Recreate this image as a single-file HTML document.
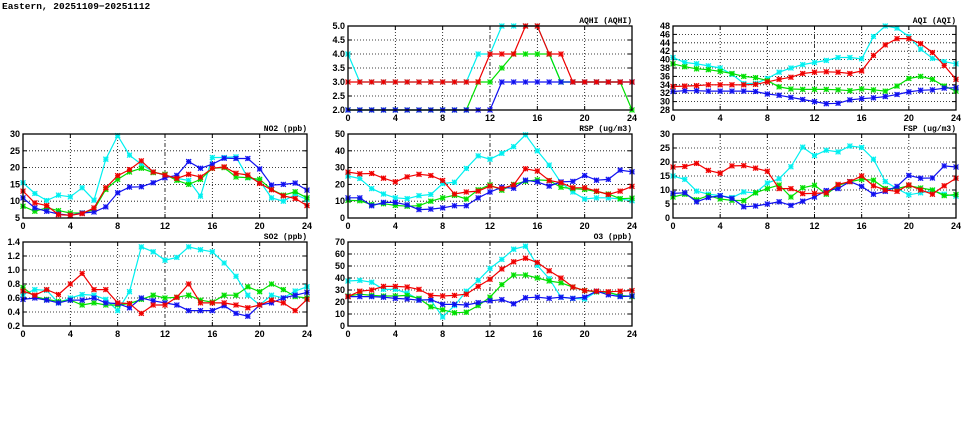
<!DOCTYPE html>
<html><head><meta charset="utf-8"><style>
body{margin:0;background:#fff;width:975px;height:447px;overflow:hidden}
svg{display:block}
text{font-family:"Liberation Sans",sans-serif;font-weight:bold;font-size:9px;fill:#000}
.mono{font-family:"Liberation Mono",monospace;font-size:8px}
.head{font-family:"Liberation Mono",monospace;font-size:9.5px}
</style></head><body>
<svg id="c" width="975" height="447" viewBox="0 0 975 447">
<text class="head" x="2" y="9">Eastern, 20251109−20251112</text>
</svg>
<script>
const hours = [0,1,2,3,4,5,6,7,8,9,10,11,12,13,14,15,16,17,18,19,20,21,22,23,24];
const xTicks = [0,4,8,12,16,20,24];
const seriesNames = ["cyan","green","blue","red"];
const seriesColors = ["#00f0f0","#00e000","#1010f0","#f00000"];

const no2Cyan = [15.5,12.3,10.2,11.8,11.3,14,10.3,22.5,29.5,23.7,21,18.7,17.8,16.8,16.2,11.5,23,23,23.2,17,16,11,10,12,10.5];
const no2Green = [8.5,7,8,7.2,6.5,6.5,7.5,13.5,16.5,18.7,19.8,18.5,18,16.2,15,16.5,19.8,20,17.2,17,16.5,13.5,11.8,12.8,11];
const no2Blue = [11,8,7,6.2,5.8,6.5,6.8,8.3,12.5,14.2,14.3,15.5,17,17.7,21.8,19.8,21,22.8,22.7,22.7,19.6,14.8,15,15.4,13.3];
const no2Red = [13,9.5,8.7,6,5.8,6.3,8,14,17.6,19.4,22,18.7,17.8,16.8,18,17.2,19.8,20.2,18.3,17.8,15.3,13.4,11.6,10.8,8.7];
const no2Ticks = [5,10,15,20,25,30];

const so2Cyan = [0.65,0.72,0.71,0.53,0.6,0.65,0.64,0.58,0.42,0.69,1.33,1.26,1.14,1.18,1.33,1.29,1.26,1.1,0.91,0.64,0.5,0.64,0.6,0.7,0.76];
const so2Green = [0.75,0.62,0.58,0.55,0.57,0.5,0.53,0.5,0.5,0.52,0.58,0.64,0.6,0.61,0.64,0.57,0.54,0.64,0.64,0.76,0.69,0.8,0.72,0.62,0.6];
const so2Blue = [0.58,0.6,0.57,0.53,0.57,0.57,0.6,0.53,0.52,0.46,0.6,0.56,0.53,0.5,0.42,0.42,0.42,0.49,0.38,0.34,0.5,0.53,0.6,0.64,0.68];
const so2Red = [0.7,0.64,0.72,0.65,0.8,0.95,0.72,0.72,0.53,0.52,0.38,0.5,0.5,0.61,0.8,0.53,0.53,0.53,0.5,0.46,0.5,0.57,0.53,0.42,0.58];
const so2Ticks = ["0.2","0.4","0.6","0.8","1.0","1.2","1.4"];

const aqhiCyan = [4,3,3,3,3,3,3,3,3,3,3,4,4,5,5,5,5,4,3,3,3,3,3,3,3];
const aqhiGreen = [2,2,2,2,2,2,2,2,2,2,2,3,3,3.5,4,4,4,4,3,3,3,3,3,3,2];
const aqhiBlue = [2,2,2,2,2,2,2,2,2,2,2,2,2,3,3,3,3,3,3,3,3,3,3,3,3];
const aqhiRed = [3,3,3,3,3,3,3,3,3,3,3,3,4,4,4,5,5,4,4,3,3,3,3,3,3];
const aqhiTicks = ["2.0","2.5","3.0","3.5","4.0","4.5","5.0"];

const rspCyan = [25,23.5,17.5,14.3,12,11.5,13.3,14,20.5,21.3,29.5,37,35,38.5,42.5,49.5,40,31.5,21,15.5,11.3,12,12,11.3,10.3];
const rspGreen = [10.5,10.3,8,8.5,7.5,7,7.3,10,12,13.5,11.3,16.8,19.7,16.5,20,21.8,22.7,22.3,18.3,17.5,17,15.8,14.3,11.5,11.8];
const rspBlue = [12,12,7.3,9.3,9.3,7.8,5,5.3,6,7.3,7.3,12,15.5,18.3,17.7,22.5,21.5,19,21.5,21.8,25.3,22.5,23,28.5,27.5];
const rspRed = [27.3,26.3,26.5,23.7,21.5,24.5,26,25.3,22.3,14.3,15.5,16,19,17.5,19.7,29.3,28,22.3,21,18,18,16,14,16,18.8];
const rspTicks = [0,10,20,30,40,50];

const o3Cyan = [37.5,38,36.5,30.5,30.5,27.5,22,21.5,7.5,17,29,38,48,55.5,64,66.5,50.5,39.5,24,23,22.5,28.5,28,25,25];
const o3Green = [25,26.5,25.5,25,25,25.5,23,16,13.5,11,11.5,17,24,34.5,42.5,42.5,40,37.5,36,32.5,29.5,28.5,28,25.5,24.5];
const o3Blue = [24.5,24.5,24.5,24,23,22.5,21.5,22,18,18,17.5,19.5,21,22,18.5,23.5,24,23,24,23,24,29,26,24.5,25];
const o3Red = [24.5,29,30,33,33,32.5,30.5,25.5,25,25.5,26.5,33,39,47.5,53.5,56.5,53,46,40,32.5,29.5,29,28.5,29,29.5];
const o3Ticks = [0,10,20,30,40,50,60,70];

const aqiCyan = [40.5,39.3,39,38.5,38,36.5,34.3,34.3,35.5,37,38,38.8,39.3,39.8,40.5,40.5,40.2,45.5,48,47.5,45.5,42.5,40.3,39.5,39];
const aqiGreen = [39,38.3,37.8,37.6,37.2,36.7,36,35.7,35,33.5,33,32.9,32.9,32.9,32.8,32.6,33,32.8,32.5,33.7,35.5,36,35.3,33.7,32.5];
const aqiBlue = [32.4,32.6,32.6,32.5,32.5,32.5,32.5,32.4,31.8,31.5,31,30.5,30,29.5,29.6,30.4,30.7,30.9,31.2,31.7,32.3,32.7,32.8,33.2,33.3];
const aqiRed = [33.6,33.7,33.8,34,34,34,34,34.1,34.7,35.3,35.8,36.7,37,37.1,37,36.7,37.3,41,43.5,45,45,43.8,41.7,38.6,35.3];
const aqiTicks = [28,30,32,34,36,38,40,42,44,46,48];

const fspCyan = [15,13.8,9.6,8.5,8,7.3,9.3,9,12.5,14,18.3,25.3,22.3,24.2,23.6,25.7,25.2,21,13,10.5,8.3,9,9.8,8.5,7.8];
const fspGreen = [7.5,8.5,6.5,8,6.8,6.3,6.2,9,10.5,11.8,7.5,10.8,11.7,8.5,11.6,13,13.8,13.5,10.5,10.5,11.5,10.7,10,8,8.4];
const fspBlue = [8.8,9,5.8,7.3,8,7,4,4.3,5,5.8,4.5,6,7.5,9.8,10.5,13,11.3,8.5,9.5,11.3,15.2,14.2,14.3,18.6,18.2];
const fspRed = [18.2,18.4,19.5,17,16,18.6,18.7,17.8,16.7,10.5,10.5,8.7,8.8,9,12,13,15,11.5,10,9.5,11.8,10,8.5,11.5,14.2];
const fspTicks = [0,5,10,15,20,25,30];

const NS = "http://www.w3.org/2000/svg";
const svg = document.getElementById("c");
function mk(tag, attrs, parent){
  const e = document.createElementNS(NS, tag);
  for (const k in attrs) e.setAttribute(k, attrs[k]);
  (parent||svg).appendChild(e);
  return e;
}
const cols = [[23,307],[348,632],[673,956]];
const rows = [[26,110],[134,218],[242,326]];

function panel(key, title, col, row, ticks, series){
  const [x0,x1] = cols[col], [y0,y1] = rows[row];
  const vals = ticks.map(Number);
  const ymin = vals[0], ymax = vals[vals.length-1];
  const xs = h => x0 + (h/24)*(x1-x0);
  const ys = v => y1 - (v-ymin)/(ymax-ymin)*(y1-y0);
  const g = mk("g", {});
  
  
  ticks.forEach((t,i) => {
    const y = ys(vals[i]);
    if (i>0 && i<ticks.length-1) {
      const gl = mk("line", {x1:x0,x2:x1,y1:y,y2:y,stroke:"#000","stroke-width":0.8,"stroke-dasharray":"1,2"}, g);
      
      
    }
    mk("line", {x1:x0,x2:x0+4,y1:y,y2:y,stroke:"#000","stroke-width":1}, g);
    mk("line", {x1:x1-4,x2:x1,y1:y,y2:y,stroke:"#000","stroke-width":1}, g);
    const tl = mk("text", {x:x0-3,y:y+3,"text-anchor":"end"}, g);
    tl.textContent = t;
    
    
  });
  xTicks.forEach(h => {
    const x = xs(h);
    if (h>0 && h<24) {
      const gl = mk("line", {x1:x,x2:x,y1:y0,y2:y1,stroke:"#000","stroke-width":0.8,"stroke-dasharray":h===12?"4,2,1,2":"1,2"}, g);
      
      
    }
    mk("line", {x1:x,x2:x,y1:y1,y2:y1-4,stroke:"#000","stroke-width":1}, g);
    mk("line", {x1:x,x2:x,y1:y0,y2:y0+4,stroke:"#000","stroke-width":1}, g);
    const tl = mk("text", {x:x,y:y1+11,"text-anchor":"middle"}, g);
    tl.textContent = h;
    
    
  });
  series.forEach((data,si) => {
    const c = seriesColors[si];
    const pts = data.map((v,i) => xs(hours[i]).toFixed(1)+","+ys(Math.min(Math.max(v,ymin),ymax)).toFixed(1)).join(" ");
    const pl = mk("polyline", {points:pts,fill:"none",stroke:c,"stroke-width":1.2}, g);
    
    
    data.forEach((v,i) => {
      if (v<ymin || v>ymax) return;
      const x = xs(hours[i]), y = ys(v);
      const m = mk("g", {}, g);
      
      
      mk("rect", {x:x-2.5,y:y-2.5,width:5,height:5,fill:c,opacity:0.3}, m);
      mk("path", {d:`M${x-2.5},${y-2.5}L${x+2.5},${y+2.5}M${x-2.5},${y+2.5}L${x+2.5},${y-2.5}M${x-2.5},${y}L${x+2.5},${y}M${x},${y-2.5}L${x},${y+2.5}`,stroke:c,"stroke-width":1.1}, m);
    });
  });
  const fr = mk("rect", {x:x0,y:y0,width:x1-x0,height:y1-y0,fill:"none",stroke:"#000","stroke-width":1.3}, g);
  
  
  const tt = mk("text", {x:x1,y:y0-3,"text-anchor":"end","class":"mono"}, g);
  tt.textContent = title;
  
  
}
panel("aqhi","AQHI (AQHI)",1,0,aqhiTicks,[aqhiCyan,aqhiGreen,aqhiBlue,aqhiRed]);
panel("aqi","AQI (AQI)",2,0,aqiTicks,[aqiCyan,aqiGreen,aqiBlue,aqiRed]);
panel("no2","NO2 (ppb)",0,1,no2Ticks,[no2Cyan,no2Green,no2Blue,no2Red]);
panel("rsp","RSP (ug/m3)",1,1,rspTicks,[rspCyan,rspGreen,rspBlue,rspRed]);
panel("fsp","FSP (ug/m3)",2,1,fspTicks,[fspCyan,fspGreen,fspBlue,fspRed]);
panel("so2","SO2 (ppb)",0,2,so2Ticks,[so2Cyan,so2Green,so2Blue,so2Red]);
panel("o3","O3 (ppb)",1,2,o3Ticks,[o3Cyan,o3Green,o3Blue,o3Red]);
</script>
</body></html>
